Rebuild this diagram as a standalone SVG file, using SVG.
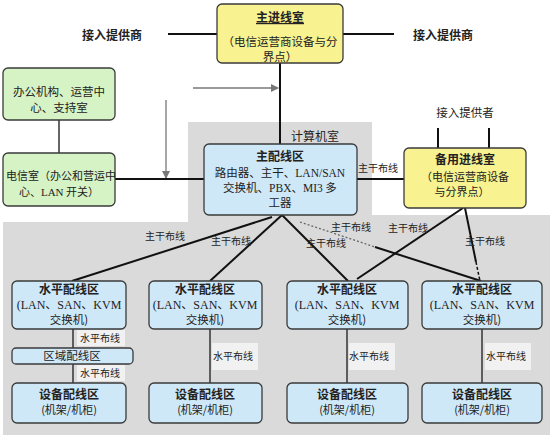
<svg xmlns="http://www.w3.org/2000/svg" width="550" height="435" viewBox="0 0 550 435">
<defs>
<style>
.t{font-family:"Noto Sans CJK SC","Liberation Sans",sans-serif;fill:#222;text-anchor:middle}
.s{font-family:"Liberation Serif","Noto Sans CJK SC",serif;fill:#222;text-anchor:middle}
.b{font-weight:bold}
.y{fill:#f8f290;stroke:#3a3a3a;stroke-width:1.3}
.g{fill:#d6f3c6;stroke:#3a3a3a;stroke-width:1.3}
.u{fill:#cfe8f8;stroke:#3a3a3a;stroke-width:1.3}
.ln{stroke:#111;stroke-width:2;fill:none}
.lv{stroke:#333;stroke-width:1.5;fill:none}
.ga{stroke:#777;stroke-width:1.3;fill:none}
.lb{font-size:10px}
.lbg{fill:#f1f1f1}
</style>
<marker id="ah" markerWidth="8" markerHeight="8" refX="7" refY="4" orient="auto" markerUnits="userSpaceOnUse">
<path d="M0,0 L8,4 L0,8 Z" fill="#777"/>
</marker>
</defs>
<rect width="550" height="435" fill="#fff"/>
<path d="M188,122 H372 V215 H550 V435 H3 V222 H188 Z" fill="#dadada"/>
<text class="t" x="315" y="141" font-size="12">计算机室</text>

<g id="connectors">
<line class="ln" x1="168" y1="34" x2="217" y2="34"/>
<line class="ln" x1="343" y1="34" x2="394" y2="34"/>
<line class="ln" x1="280" y1="63" x2="280" y2="144"/>
<line class="ga" x1="193" y1="88" x2="278" y2="88" marker-end="url(#ah)"/>
<line class="ga" x1="166" y1="100" x2="166" y2="178" marker-end="url(#ah)"/>
<line class="lv" x1="59" y1="120" x2="59" y2="153"/>
<line class="ln" x1="115" y1="179" x2="204" y2="179"/>
<line class="ln" x1="357" y1="179" x2="404" y2="179"/>
<line class="ln" x1="438" y1="128" x2="438" y2="148"/>
<line class="ln" x1="489" y1="128" x2="489" y2="148"/>
<line class="ln" x1="72" y1="281" x2="272" y2="217"/>
<line class="ln" x1="282" y1="215" x2="210" y2="281"/>
<line class="ln" x1="282" y1="215" x2="348" y2="281"/>
<line x1="300" y1="222" x2="375" y2="247" stroke="#666" stroke-width="1.3" stroke-dasharray="2,2"/>
<line class="ln" x1="375" y1="247" x2="481" y2="281"/>
<line class="ln" x1="463" y1="208" x2="357" y2="279"/>
<line class="ln" x1="465" y1="208" x2="476" y2="262"/>
<line x1="476" y1="262" x2="480" y2="281" stroke="#111" stroke-width="1.5" stroke-dasharray="3,2"/>
<line class="lv" x1="73" y1="329" x2="73" y2="348"/>
<line class="lv" x1="73" y1="364" x2="73" y2="383"/>
<line class="lv" x1="210" y1="329" x2="210" y2="383"/>
<line class="lv" x1="347" y1="329" x2="347" y2="383"/>
<line class="lv" x1="482" y1="329" x2="482" y2="383"/>
<text class="t lb" x="378" y="172">主干布线</text>
<text class="t lb" x="165" y="240">主干布线</text>
<text class="t lb" x="231" y="245">主干布线</text>
<text class="t lb" x="326" y="247">主干布线</text>
<text class="t lb" x="351" y="231">主干布线</text>
<text class="t lb" x="408" y="232">主干布线</text>
<text class="t lb" x="485" y="245">主干布线</text>
<rect class="lbg" x="77" y="330" width="48" height="16"/>
<rect class="lbg" x="77" y="365" width="48" height="16"/>
<rect class="lbg" x="212" y="343" width="46" height="27"/>
<rect class="lbg" x="349" y="343" width="46" height="27"/>
<rect class="lbg" x="485" y="343" width="46" height="27"/>
<text class="t lb" x="100" y="342">水平布线</text>
<text class="t lb" x="100" y="377">水平布线</text>
<text class="t lb" x="233" y="360">水平布线</text>
<text class="t lb" x="369" y="360">水平布线</text>
<text class="t lb" x="506" y="360">水平布线</text>
</g>

<g id="provider-left"><text class="t b" x="112" y="40" font-size="12">接入提供商</text></g>
<g id="provider-right"><text class="t b" x="443" y="40" font-size="12">接入提供商</text></g>
<g id="provider-backup"><text class="t" x="465" y="117" font-size="11.5">接入提供者</text></g>

<g id="main-entrance">
<rect class="y" x="217" y="4" width="126" height="59" rx="5"/>
<text class="t b" x="280" y="22" font-size="12" text-decoration="underline">主进线室</text>
<text class="t" x="280" y="46" font-size="11.5">（电信运营商设备与分</text>
<text class="t" x="280" y="61" font-size="11.5">界点）</text>
</g>

<g id="office">
<rect class="g" x="3" y="68" width="112" height="52" rx="5"/>
<text class="t" x="59" y="96" font-size="11.5">办公机构、运营中</text>
<text class="t" x="59" y="112" font-size="11.5">心、支持室</text>
</g>

<g id="telecom-room">
<rect class="g" x="3" y="153" width="112" height="53" rx="5"/>
<text class="t" x="61" y="180" font-size="11">电信室（办公和营运中</text>
<text class="t" x="59" y="196" font-size="11">心、<tspan font-family="Liberation Serif">LAN</tspan> 开关）</text>
</g>

<g id="main-distribution">
<rect class="u" x="204" y="144" width="153" height="71" rx="5"/>
<text class="t b" x="280" y="161" font-size="12">主配线区</text>
<text class="t" x="280" y="177" font-size="11.5">路由器、主干、<tspan font-family="Liberation Serif">LAN/SAN</tspan></text>
<text class="t" x="280" y="192" font-size="11.5">交换机、<tspan font-family="Liberation Serif">PBX</tspan>、<tspan font-family="Liberation Serif">MI3</tspan> 多</text>
<text class="t" x="280" y="207" font-size="11.5">工器</text>
</g>

<g id="backup-entrance">
<rect class="y" x="404" y="148" width="122" height="60" rx="5"/>
<text class="t b" x="465" y="164" font-size="12">备用进线室</text>
<text class="t" x="465" y="181" font-size="11">（电信运营商设备</text>
<text class="t" x="462" y="196" font-size="11">与分界点）</text>
</g>

<g id="hda1">
<rect class="u" x="12" y="281" width="114" height="48" rx="5"/>
<text class="t b" x="69" y="294" font-size="12">水平配线区</text>
<text class="s" x="69" y="309" font-size="12">(LAN、SAN、KVM</text>
<text class="t" x="69" y="324" font-size="11.5">交换机)</text>
</g>
<g id="hda2">
<rect class="u" x="149" y="281" width="113" height="48" rx="5"/>
<text class="t b" x="205" y="294" font-size="12">水平配线区</text>
<text class="s" x="205" y="309" font-size="12">(LAN、SAN、KVM</text>
<text class="t" x="205" y="324" font-size="11.5">交换机)</text>
</g>
<g id="hda3">
<rect class="u" x="287" y="281" width="121" height="48" rx="5"/>
<text class="t b" x="347" y="294" font-size="12">水平配线区</text>
<text class="s" x="347" y="309" font-size="12">(LAN、SAN、KVM</text>
<text class="t" x="347" y="324" font-size="11.5">交换机)</text>
</g>
<g id="hda4">
<rect class="u" x="422" y="281" width="120" height="48" rx="5"/>
<text class="t b" x="482" y="294" font-size="12">水平配线区</text>
<text class="s" x="482" y="309" font-size="12">(LAN、SAN、KVM</text>
<text class="t" x="482" y="324" font-size="11.5">交换机)</text>
</g>

<g id="zda">
<rect class="u" x="12" y="348" width="121" height="16" rx="4"/>
<text class="t" x="72" y="360" font-size="11.5">区域配线区</text>
</g>

<g id="eda1">
<rect class="u" x="12" y="383" width="114" height="40" rx="5"/>
<text class="t b" x="69" y="399" font-size="12">设备配线区</text>
<text class="t" x="69" y="414" font-size="11">(机架/机柜)</text>
</g>
<g id="eda2">
<rect class="u" x="149" y="383" width="113" height="40" rx="5"/>
<text class="t b" x="205" y="399" font-size="12">设备配线区</text>
<text class="t" x="205" y="414" font-size="11">(机架/机柜)</text>
</g>
<g id="eda3">
<rect class="u" x="287" y="383" width="121" height="40" rx="5"/>
<text class="t b" x="347" y="399" font-size="12">设备配线区</text>
<text class="t" x="347" y="414" font-size="11">(机架/机柜)</text>
</g>
<g id="eda4">
<rect class="u" x="422" y="383" width="120" height="40" rx="5"/>
<text class="t b" x="482" y="399" font-size="12">设备配线区</text>
<text class="t" x="482" y="414" font-size="11">(机架/机柜)</text>
</g>
</svg>
